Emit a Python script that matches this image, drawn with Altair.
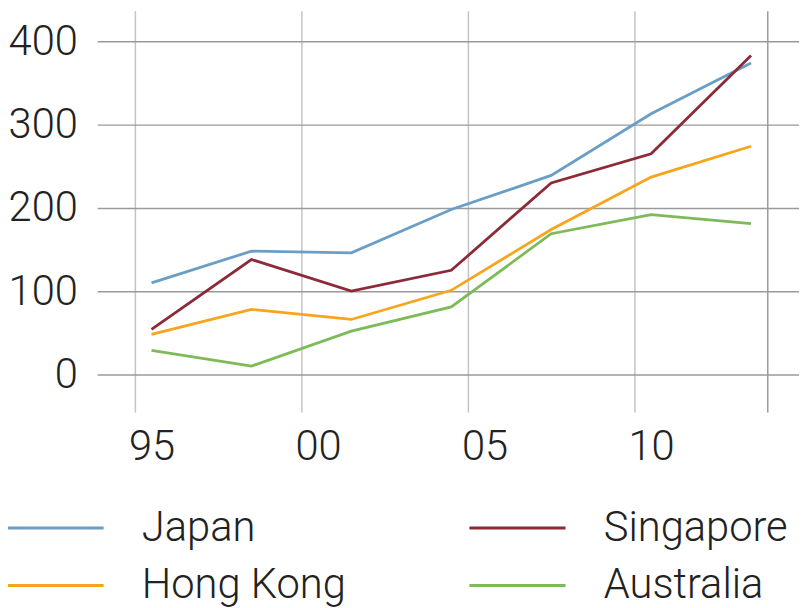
import altair as alt
import pandas as pd

years = [1995, 1998, 2001, 2004, 2007, 2010, 2013]
countries = ["Japan", "Hong Kong", "Singapore", "Australia"]
japan = [110, 148, 146, 198, 239, 313, 374]
hong_kong = [48, 78, 66, 101, 174, 237, 274]
singapore = [54, 138, 100, 125, 230, 265, 383]
australia = [29, 10, 52, 81, 169, 192, 181]
colors = ["#6b9ec6", "#f7a51c", "#8c2a38", "#7cbb58"]
x_ticks = [1995, 2000, 2005, 2010, 2014]
y_ticks = [0, 100, 200, 300, 400]

rows = []
for name, vals in zip(countries, [japan, hong_kong, singapore, australia]):
    for yr, v in zip(years, vals):
        rows.append({"country": name, "year": yr, "value": v})
df = pd.DataFrame(rows)

FONT = "Roboto"
TXT = "#222222"

chart = (
    alt.Chart(df)
    .transform_calculate(xpos="datum.year + 0.5")
    .mark_line(strokeWidth=2.8)
    .encode(
        x=alt.X(
            "xpos:Q",
            scale=alt.Scale(domain=[1993.87, 2014.94], nice=False, zero=False),
            axis=alt.Axis(
                values=x_ticks,
                title=None,
                domain=False,
                ticks=False,
                grid=True,
                gridColor={
                    "condition": {"test": "datum.value == 2014", "value": "#9a9a9a"},
                    "value": "#c4c4c4",
                },
                gridWidth=1.5,
                labelExpr="datum.value == 2014 ? '' : substring(toString(datum.value), 2, 4)",
                labelOffset=16.8,
                labelPadding=15,
                labelFontSize=42,
                labelFont=FONT,
                labelFontWeight=300,
                labelColor=TXT,
                labelFlush=False,
                labelOverlap=False,
            ),
        ),
        y=alt.Y(
            "value:Q",
            scale=alt.Scale(domain=[-45.24, 436.9], nice=False, zero=False),
            axis=alt.Axis(
                values=y_ticks,
                title=None,
                domain=False,
                ticks=False,
                grid=True,
                gridColor="#9a9a9a",
                gridWidth=1.5,
                labelPadding=20,
                labelFontSize=42,
                labelFont=FONT,
                labelFontWeight=300,
                labelColor=TXT,
                labelFlush=False,
                labelOverlap=False,
            ),
        ),
        color=alt.Color(
            "country:N",
            scale=alt.Scale(domain=countries, range=colors),
            legend=alt.Legend(
                title=None,
                orient="none",
                legendX=-63,
                legendY=501,
                columns=2,
                symbolType="M-4,0H4",
                symbolSize=588,
                symbolStrokeWidth=3,
                labelFontSize=42,
                labelFont=FONT,
                labelFontWeight=300,
                labelColor=TXT,
                labelOffset=66,
                labelLimit=0,
                columnPadding=118,
                rowPadding=16,
            ),
        ),
    )
    .properties(width=708, height=405, padding=0)
    .configure_view(stroke=None)
)

chart.save("out.html", embed_options={"renderer": "svg", "actions": False})
